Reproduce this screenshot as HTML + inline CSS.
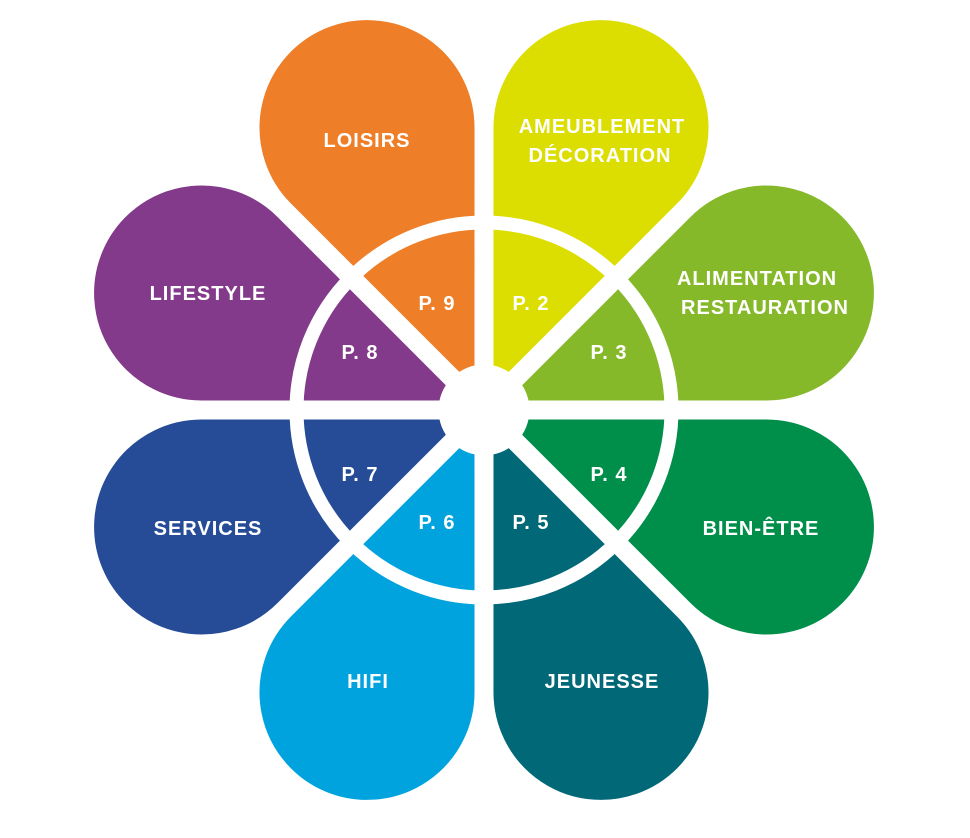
<!DOCTYPE html>
<html><head><meta charset="utf-8"><style>
html,body{margin:0;padding:0;background:#fff;}
svg{display:block}
text{font-family:"Liberation Sans",sans-serif;font-weight:bold;fill:#fff;text-anchor:middle;letter-spacing:1px}
.b{font-size:20px}
.p{font-size:20px}
</style></head><body>
<svg width="970" height="838" viewBox="0 0 970 838" xmlns="http://www.w3.org/2000/svg">
<defs>
<path id="t" d="M0,0 L243.3,-100.8 A109,109 0 1,1 243.3,100.8 Z"/>
</defs>
<g transform="translate(484,410)" stroke="#fff" stroke-width="3" stroke-linejoin="round">
<use href="#t" fill="#DCDD00" transform="rotate(-67.5) translate(20.9,0)"/>
<use href="#t" fill="#86B92A" transform="rotate(-22.5) translate(20.9,0)"/>
<use href="#t" fill="#008E4B" transform="rotate(22.5) translate(20.9,0)"/>
<use href="#t" fill="#006877" transform="rotate(67.5) translate(20.9,0)"/>
<use href="#t" fill="#00A3DD" transform="rotate(112.5) translate(20.9,0)"/>
<use href="#t" fill="#264C97" transform="rotate(157.5) translate(20.9,0)"/>
<use href="#t" fill="#833A8A" transform="rotate(202.5) translate(20.9,0)"/>
<use href="#t" fill="#EE7E27" transform="rotate(247.5) translate(20.9,0)"/>
<circle r="187.5" fill="none" stroke="#fff" stroke-width="14"/>
<circle r="44" fill="#fff"/>
</g>
<text class="b" x="367" y="147">LOISIRS</text>
<text class="b" x="602" y="133">AMEUBLEMENT</text>
<text class="b" x="600" y="162">DÉCORATION</text>
<text class="b" x="757" y="285">ALIMENTATION</text>
<text class="b" x="765" y="314">RESTAURATION</text>
<text class="b" x="208" y="300">LIFESTYLE</text>
<text class="b" x="208" y="535">SERVICES</text>
<text class="b" x="761" y="535">BIEN-ÊTRE</text>
<text class="b" x="368" y="688">HIFI</text>
<text class="b" x="602" y="688">JEUNESSE</text>
<text class="p" x="437" y="310">P. 9</text>
<text class="p" x="531" y="310">P. 2</text>
<text class="p" x="609" y="359">P. 3</text>
<text class="p" x="360" y="359">P. 8</text>
<text class="p" x="360" y="481">P. 7</text>
<text class="p" x="609" y="481">P. 4</text>
<text class="p" x="437" y="529">P. 6</text>
<text class="p" x="531" y="529">P. 5</text>
</svg>
</body></html>
